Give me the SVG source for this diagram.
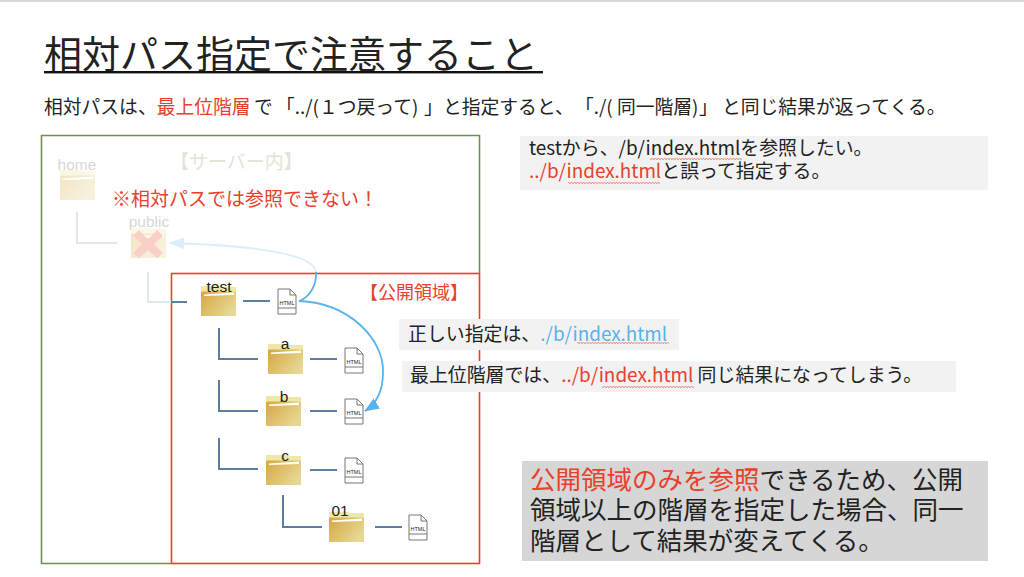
<svg xmlns="http://www.w3.org/2000/svg" width="1024" height="577" viewBox="0 0 1024 577">
<style>
text{font-family:"Noto Sans CJK JP","Noto Sans",sans-serif;fill:#222;text-spacing-trim:space-all}
.r{fill:#e8402a}.b{fill:#58b3ec}
.lab{font-family:"Liberation Sans",sans-serif;font-size:15.5px;text-anchor:middle}
.con{fill:none;stroke:#5b7f9f;stroke-width:2}
.lite{fill:none;stroke:#dfe6ee;stroke-width:2}
</style>
<defs>
<linearGradient id="g" x1="0" y1="0" x2="1" y2="0.6"><stop offset="0.1" stop-color="#d8ab48"/><stop offset="1" stop-color="#e6d794"/></linearGradient>
<g id="folder">
<path d="M0 0H19L21 1H35V30H0Z" fill="#efe7a6"/>
<rect y="5.500" width="35" height="24.500" rx="1" fill="url(#g)"/>
<polygon points="3,8.500 33,6.500 33,9 3,10" fill="#fff"/>
</g>
<g id="html">
<path d="M1 1H13L19 7V26H1Z" fill="#fff" stroke="#777" stroke-width="1"/>
<path d="M13 1V7H19M1 20H19" fill="none" stroke="#777" stroke-width="1"/>
<text x="10" y="17" font-size="5.500" text-anchor="middle" style="font-family:'Liberation Sans',sans-serif" fill="#444">HTML</text>
</g>
<pattern id="sq" width="3" height="2" patternUnits="userSpaceOnUse"><path d="M0 1.500L1.500 .5L3 1.500" fill="none" stroke="#e8604a" stroke-width=".8"/></pattern>
<marker id="ah" markerWidth="16" markerHeight="12" refX="14" refY="6" orient="auto" markerUnits="userSpaceOnUse"><path d="M0 0L15 6L0 12Z" fill="#58b3ec"/></marker>
<marker id="ahl" markerWidth="16" markerHeight="12" refX="14" refY="6" orient="auto" markerUnits="userSpaceOnUse"><path d="M0 0L15 6L0 12Z" fill="#dbeefb"/></marker>
</defs>
<rect width="1024" height="577" fill="#fff"/>
<rect width="1024" height="2" fill="#d9d9d9"/>

<g id="title">
<text x="44" y="68" font-size="38">相対パス指定で注意すること</text>
<rect x="44" y="71" width="499" height="2.400" fill="#111"/>
</g>
<text id="subtitle" y="114" font-size="18.800"><tspan x="44">相対パスは、</tspan><tspan class="r">最上位階層</tspan><tspan x="254">で</tspan><tspan x="276">「../(</tspan><tspan x="319">１つ戻って)</tspan><tspan x="424">」</tspan><tspan x="443">と指定すると、</tspan><tspan x="575">「./(</tspan><tspan x="617">同一階層)</tspan><tspan x="699">」</tspan><tspan x="722">と同じ結果が返ってくる。</tspan></text>

<g id="note-top">
<rect x="520" y="136" width="468" height="54" fill="#f2f2f2"/>
<text x="529" y="155" font-size="18.900">testから、/b/index.htmlを参照したい。</text>
<text x="529" y="178" font-size="18.900"><tspan class="r">../b/index.html</tspan>と誤って指定する。</text>
<rect x="650" y="158" width="92" height="2" fill="url(#sq)"/>
<rect x="568" y="182" width="92" height="2" fill="url(#sq)"/>
</g>

<g id="area-server">
<path d="M171 563.500H41.500V135.500H479.500V273" fill="none" stroke="#70904f" stroke-width="1.600"/>
<text x="170" y="169" font-size="19" style="fill:#dde6d4">【サーバー内】</text>
</g>
<g id="area-public">
<rect x="171.500" y="273.500" width="308" height="290" fill="none" stroke="#e8402a" stroke-width="1.600"/>
<text x="360" y="299" font-size="18" class="r">【公開領域】</text>
</g>
<text id="warning" x="112" y="206" font-size="19" class="r">※相対パスでは参照できない！</text>

<g id="connectors">
<path class="lite" d="M77 212V243H117"/>
<path class="lite" d="M148 272V302H171"/>
<path class="con" d="M171 302H187M243 301H270M219 328V359H258M310 359H337M219 380V411H258M310 411H337M219 438V469H258M310 470H337M283 495V527H322M375 527H402"/>
<path d="M316 272C314 252 240 245 170 243" fill="none" stroke="#dbeefb" stroke-width="1.800" marker-end="url(#ahl)"/>
<path d="M316 272C317 287 308 298 299 301" fill="none" stroke="#58b3ec" stroke-width="1.800"/>
<path d="M299 301C350 303 384 340 383 372C383 392 376 404 365 411" fill="none" stroke="#58b3ec" stroke-width="1.800" marker-end="url(#ah)"/>
</g>

<g id="node-home" opacity="0.3"><use href="#folder" x="60" y="170"/><text class="lab" x="77" y="170" style="fill:#777">home</text></g>
<g id="node-public" opacity="0.3"><use href="#folder" x="131" y="228"/><text class="lab" x="149" y="227" style="fill:#777">public</text></g>
<polygon id="cross" points="139,230 148,239 157,230 163,236 154,244 163,253 157,258 148,250 139,258 133,253 142,244 133,236" fill="#f8d0c8"/>
<g id="node-test"><use href="#folder" x="201" y="286"/><text class="lab" x="219" y="292">test</text><use href="#html" x="277" y="288"/></g>
<g id="node-a"><use href="#folder" x="268" y="344"/><text class="lab" x="285" y="349">a</text><use href="#html" x="344" y="347"/></g>
<g id="node-b"><use href="#folder" x="266" y="396"/><text class="lab" x="284" y="402">b</text><use href="#html" x="344" y="398"/></g>
<g id="node-c"><use href="#folder" x="266" y="455"/><text class="lab" x="285" y="461">c</text><use href="#html" x="344" y="457"/></g>
<g id="node-01"><use href="#folder" x="329" y="512"/><text class="lab" x="340" y="516">01</text><use href="#html" x="408" y="514"/></g>

<g id="note-correct">
<rect x="399" y="319" width="280" height="31" fill="#f2f2f2"/>
<text x="408" y="341" font-size="18.900">正しい指定は、<tspan class="b">./b/index.html</tspan></text>
<rect x="577" y="342" width="92" height="2" fill="url(#sq)"/>
</g>
<g id="note-root">
<rect x="402" y="361" width="554" height="31" fill="#f2f2f2"/>
<text x="410" y="382" font-size="18.900">最上位階層では、<tspan class="r">../b/index.html</tspan> 同じ結果になってしまう。</text>
<rect x="602" y="386" width="92" height="2" fill="url(#sq)"/>
</g>
<g id="note-summary">
<rect x="522" y="461" width="466" height="100" fill="#d6d6d6"/>
<text font-size="25.500"><tspan x="530" y="489" class="r">公開領域のみを参照</tspan><tspan>できるため、公開</tspan><tspan x="530" y="519">領域以上の階層を指定した場合、同一</tspan><tspan x="530" y="549.500">階層として結果が変えてくる。</tspan></text>
</g>
</svg>
